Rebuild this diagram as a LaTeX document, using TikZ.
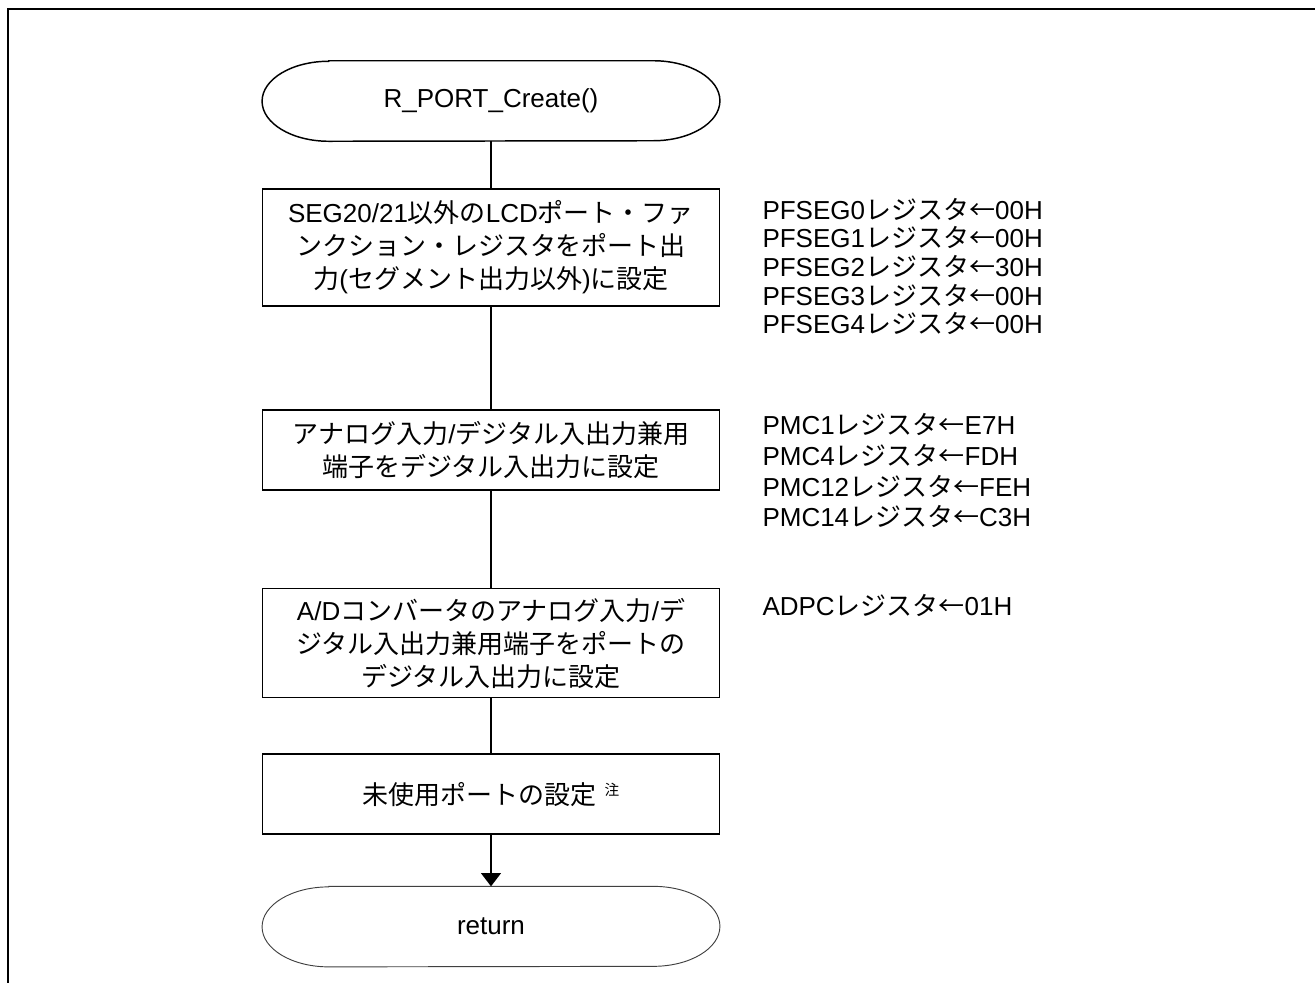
\documentclass[tikz,border=0pt]{standalone}
\usepackage{fontspec}
\setmainfont{Liberation Sans}
\newfontfamily\jafont{Noto Sans CJK JP}
\usetikzlibrary{positioning,arrows.meta}
\newcommand{\ja}[1]{{\jafont #1}}
% outline of a terminal node: flat top and bottom, half-ellipse ends
\newcommand{\termline}[2][]{%
  \draw[#1] ([xshift=50pt]#2.north west) -- ([xshift=-50pt]#2.north east)
    arc[start angle=90, end angle=-90, x radius=50pt, y radius=30pt]
    -- ([xshift=50pt]#2.south west)
    arc[start angle=270, end angle=90, x radius=50pt, y radius=30pt] -- cycle;}

\begin{document}
\begin{tikzpicture}[x=0.75pt, y=-0.75pt,
    proc/.style={draw, line width=1.1pt, minimum width=342.75pt, inner sep=0pt,
      align=center, font=\fontsize{19.5}{24.75}\selectfont},
    term/.style={minimum width=343pt, minimum height=60pt, inner sep=0pt,
      font=\fontsize{19.5}{24}\selectfont},
    note/.style={align=left, inner sep=0pt, font=\fontsize{19.5}{21.5}\selectfont},
    flow/.style={line width=1.1pt}]
  \useasboundingbox (0,0) rectangle (1315,983);
  \draw[line width=1.7pt] (1315,9) -- (8,9) -- (8,983);

  \node[term] (start) at (491,101) {R\_PORT\_Create()};
  \node[proc, on grid, below=109.9pt of start, minimum height=87.75pt] (lcd)
    {SEG20/21\ja{以外の}LCD\ja{ポート・ファ}\\
     \ja{ンクション・レジスタをポート出}\\
     \ja{力}(\ja{セグメント出力以外})\ja{に設定}};
  \node[proc, on grid, below=151.9pt of lcd, minimum height=60pt] (pmc)
    {\ja{アナログ入力}/\ja{デジタル入出力兼用}\\
     \ja{端子をデジタル入出力に設定}};
  \node[proc, on grid, below=144.75pt of pmc, minimum height=81.75pt] (adc)
    {A/D\ja{コンバータのアナログ入力}/\ja{デ}\\
     \ja{ジタル入出力兼用端子をポートの}\\
     \ja{デジタル入出力に設定}};
  \node[proc, on grid, below=113.25pt of adc, minimum height=60pt] (unused)
    {\ja{未使用ポートの設定}\hspace{6pt}\raisebox{0.6ex}{\fontsize{11}{11}\selectfont\ja{注}}};
  \node[term, on grid, below=99.4pt of unused] (ret) {return};

  \termline[line width=1.1pt]{start}
  \termline[line width=0.7pt, black!75]{ret}

  \node[note, right=31.5pt of lcd.north east, anchor=north west, yshift=-7pt] (lcdregs)
    {PFSEG0\ja{レジスタ←}00H\\
     PFSEG1\ja{レジスタ←}00H\\
     PFSEG2\ja{レジスタ←}30H\\
     PFSEG3\ja{レジスタ←}00H\\
     PFSEG4\ja{レジスタ←}00H};
  \node[note, right=31.5pt of pmc.north east, anchor=north west, yshift=-3pt,
        font=\fontsize{19.5}{23}\selectfont] (pmcregs)
    {PMC1\ja{レジスタ←}E7H\\
     PMC4\ja{レジスタ←}FDH\\
     PMC12\ja{レジスタ←}FEH\\
     PMC14\ja{レジスタ←}C3H};
  \node[note, right=31.5pt of adc.north east, anchor=north west, yshift=-5pt] (adcregs)
    {ADPC\ja{レジスタ←}01H};

  \draw[flow] (start) -- (lcd);
  \draw[flow] (lcd) -- (pmc);
  \draw[flow] (pmc) -- (adc);
  \draw[flow] (adc) -- (unused);
  \draw[flow, -{Triangle[width=15pt, length=10pt]}] (unused) -- (ret);
\end{tikzpicture}
\end{document}
